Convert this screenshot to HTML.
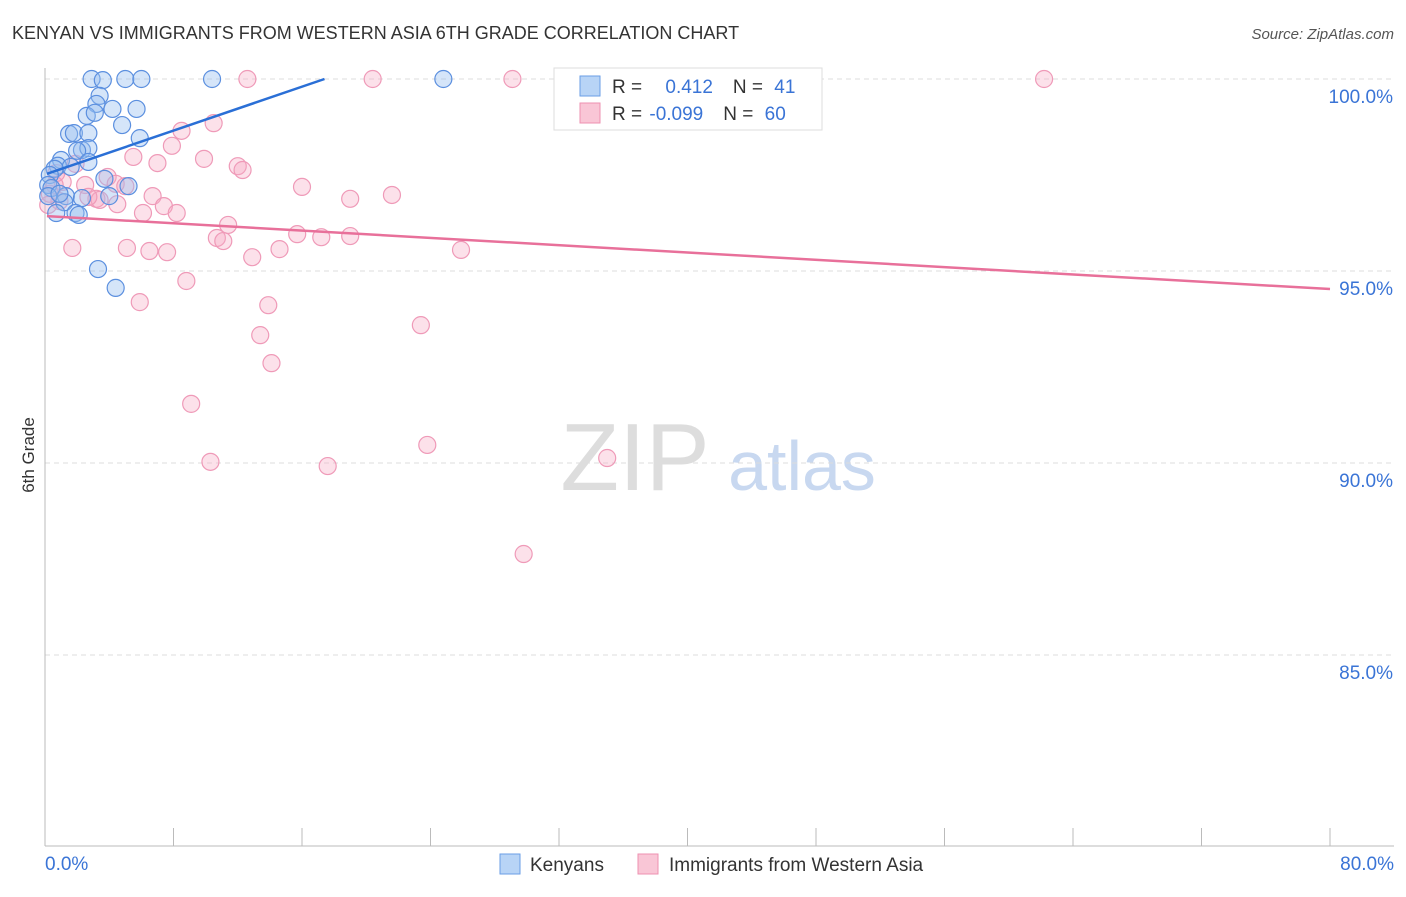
<!DOCTYPE html>
<html><head><meta charset="utf-8"><style>
body{margin:0;background:#fff;font-family:"Liberation Sans",sans-serif;}
svg text{font-family:"Liberation Sans",sans-serif;}
</style></head><body>
<svg id="c" width="1406" height="892" xmlns="http://www.w3.org/2000/svg">
<text x="12" y="39" font-size="18" fill="#333">KENYAN VS IMMIGRANTS FROM WESTERN ASIA 6TH GRADE CORRELATION CHART</text>
<text x="1394" y="39" font-size="15" fill="#555" text-anchor="end" font-style="italic">Source: ZipAtlas.com</text>
<text x="34" y="455" font-size="17" fill="#333" text-anchor="middle" transform="rotate(-90 34 455)">6th Grade</text>
<text x="635" y="490" font-size="96" fill="#ddd" font-family="Liberation Serif" text-anchor="middle">ZIP</text>
<text x="802" y="490" font-size="70" fill="#c8d8f0" text-anchor="middle">atlas</text>
<g id="grid"></g><g id="pts"></g><g id="lines"></g>
<g>
<rect x="554" y="68" width="268" height="62" fill="#fff" stroke="#ddd"/>
<rect x="580" y="76" width="20" height="20" fill="#b8d4f6" stroke="#6a9ee6"/>
<rect x="580" y="103" width="20" height="20" fill="#f9c6d6" stroke="#ee90b0"/>
<text x="612" y="93" font-size="19" fill="#333">R = <tspan fill="#3a74d6" dx="18">0.412</tspan><tspan dx="20" fill="#333">N = </tspan><tspan fill="#3a74d6" dx="6">41</tspan></text>
<text x="612" y="120" font-size="19" fill="#333">R = <tspan fill="#3a74d6" dx="2">-0.099</tspan><tspan dx="20" fill="#333">N = </tspan><tspan fill="#3a74d6" dx="6">60</tspan></text>
</g>
<g>
<rect x="500" y="854" width="20" height="20" fill="#b8d4f6" stroke="#6a9ee6"/>
<text x="530" y="871" font-size="19" fill="#333">Kenyans</text>
<rect x="638" y="854" width="20" height="20" fill="#f9c6d6" stroke="#ee90b0"/>
<text x="669" y="871" font-size="19" fill="#333">Immigrants from Western Asia</text>
</g>
</svg>
<script>
const yTicks=[100,95,90,85];
const yTickLabels=["100.0%","95.0%","90.0%","85.0%"];
const xLabels=["0.0%","80.0%"];
const blueX=[2.9,3.6,5.0,6.0,10.4,24.8,3.4,3.2,4.2,5.7,2.6,3.1,4.8,1.5,1.8,2.7,5.9,2.3,2.7,2.0,1.0,0.8,2.7,1.6,0.6,0.3,3.7,5.2,0.2,0.4,1.3,4.0,2.3,1.2,0.7,1.9,2.1,3.3,4.4,0.2,0.9];
const blueY=[100,99.97,100,100,100,100,99.56,99.35,99.22,99.22,99.04,99.12,98.80,98.57,98.59,98.59,98.46,98.15,98.20,98.13,97.89,97.74,97.84,97.71,97.66,97.50,97.40,97.21,97.24,97.16,96.95,96.95,96.90,96.79,96.51,96.51,96.46,95.05,94.56,96.95,97.01];
const pinkX=[12.6,20.4,29.1,42.4,62.2,10.5,8.5,7.9,5.5,7.0,9.9,12.0,12.3,1.9,1.1,0.6,2.5,3.9,4.4,5.0,16.0,21.6,19.0,6.7,7.4,8.2,6.1,3.2,4.5,0.9,0.3,11.4,15.7,17.2,19.0,10.7,11.1,14.6,25.9,5.1,1.7,6.5,7.6,12.9,8.8,5.9,13.9,23.4,13.4,14.1,9.1,10.3,23.8,17.6,35.0,29.8,0.7,3.4,2.7,0.2];
const pinkY=[100,100,100,99.97,100,98.85,98.65,98.26,97.97,97.81,97.92,97.73,97.63,97.79,97.32,97.24,97.24,97.45,97.27,97.21,97.19,96.98,96.88,96.95,96.69,96.51,96.51,96.88,96.74,96.82,97.01,96.20,95.96,95.88,95.91,95.86,95.78,95.57,95.55,95.60,95.60,95.52,95.49,95.36,94.74,94.19,94.11,93.59,93.33,92.60,91.54,90.03,90.47,89.92,90.13,87.63,97.55,96.85,96.93,96.72];
const blueTrend=[[0.12,97.53],[17.4,100]];
const pinkTrend=[[0.12,96.43],[80,94.53]];
const X=v=>45+v/80*1285, Y=v=>79+(100-v)/5*192;
const NS="http://www.w3.org/2000/svg";
function mk(t,a,p){const e=document.createElementNS(NS,t);for(const k in a)e.setAttribute(k,a[k]);p.appendChild(e);return e;}
const g=document.getElementById('grid');
yTicks.forEach((t,i)=>{
 const l=mk('line',{x1:45,x2:1394,y1:Y(t),y2:Y(t),stroke:'#ddd','stroke-dasharray':'5,4'},g);
 
 
 const tx=mk('text',{x:1393,y:Y(t)+24,'font-size':19,fill:'#3a74d6','text-anchor':'end'},g);
 tx.textContent=yTickLabels[i];
 
 
});
const ax=mk('line',{x1:45,x2:45,y1:68,y2:846,stroke:'#bbb'},g);


const bx=mk('line',{x1:45,x2:1394,y1:846,y2:846,stroke:'#bbb'},g);


for(let i=0;i<=10;i++){
 const tk=mk('line',{x1:X(i*8),x2:X(i*8),y1:828,y2:846,stroke:'#bbb'},g);
 
 
}
const xl0=mk('text',{x:45,y:870,'font-size':19,fill:'#3a74d6'},g);xl0.textContent=xLabels[0];


const xl1=mk('text',{x:1394,y:870,'font-size':19,fill:'#3a74d6','text-anchor':'end'},g);xl1.textContent=xLabels[1];


const p=document.getElementById('pts');
pinkX.forEach((v,i)=>{
 const c=mk('circle',{cx:X(v),cy:Y(pinkY[i]),r:8.5,fill:'rgba(246,170,196,0.35)',stroke:'#ef9ab8','stroke-width':1.2},p);
 
 
});
blueX.forEach((v,i)=>{
 const c=mk('circle',{cx:X(v),cy:Y(blueY[i]),r:8.5,fill:'rgba(150,190,240,0.4)',stroke:'#5b8fdf','stroke-width':1.2},p);
 
 
});
const L=document.getElementById('lines');
const bl=mk('line',{x1:X(blueTrend[0][0]),y1:Y(blueTrend[0][1]),x2:X(blueTrend[1][0]),y2:Y(blueTrend[1][1]),stroke:'#2a6fd6','stroke-width':2.5},L);


const pl=mk('line',{x1:X(pinkTrend[0][0]),y1:Y(pinkTrend[0][1]),x2:X(pinkTrend[1][0]),y2:Y(pinkTrend[1][1]),stroke:'#e8709a','stroke-width':2.5},L);


</script>
</body></html>
